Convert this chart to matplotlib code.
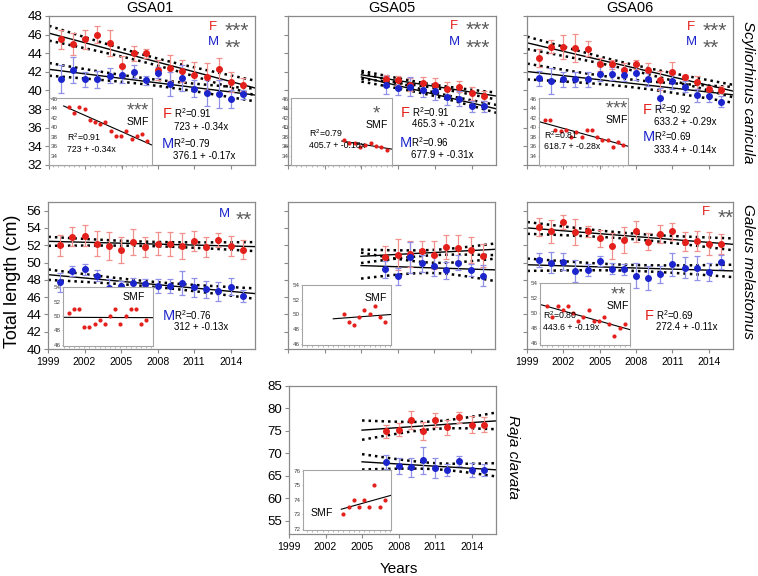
import numpy as np
import matplotlib
matplotlib.use('Agg')
import matplotlib.pyplot as plt

plt.rcParams['font.family'] = ['Liberation Sans', 'DejaVu Sans']
plt.rcParams['mathtext.fontset'] = 'custom'
plt.rcParams['mathtext.rm'] = 'Liberation Sans'
plt.rcParams['mathtext.default'] = 'regular'

W, H = 758, 576

# ---- data (mean total length, cm) ----
years16 = [2000, 2001, 2002, 2003, 2004, 2005, 2006, 2007,
           2008, 2009, 2010, 2011, 2012, 2013, 2014, 2015]
years9 = [2007, 2008, 2009, 2010, 2011, 2012, 2013, 2014, 2015]

# Scyliorhinus canicula
sc01_f = [45.5, 45.0, 45.5, 46.0, 45.1, 42.6, 44.0, 44.0, 42.2, 42.4, 42.1, 41.7, 41.5, 42.3, 40.9, 40.6]
sc01_f_err = [1.0, 1.2, 1.0, 0.9, 1.4, 1.1, 0.8, 0.5, 1.1, 1.4, 1.2, 1.4, 1.5, 1.2, 1.1, 0.7]
sc01_m = [41.2, 42.2, 41.2, 41.2, 41.6, 41.7, 42.0, 41.1, 41.9, 40.7, 41.3, 40.2, 39.7, 39.6, 39.1, 39.6]
sc01_m_err = [1.5, 1.4, 0.8, 0.9, 0.8, 0.9, 0.7, 0.5, 0.6, 1.3, 1.4, 0.9, 1.4, 1.5, 1.0, 0.5]
sc01_smf = [44.2, 43.1, 44.2, 43.8, 41.6, 41.2, 40.7, 41.1, 39.1, 38.1, 38.1, 39.1, 37.6, 38.1, 38.5, 37.0]

sc05_f = [41.2, 41.1, 40.6, 40.8, 40.6, 40.2, 40.4, 39.7, 39.4]
sc05_f_err = [0.5, 0.5, 0.7, 0.6, 0.7, 0.7, 0.6, 0.7, 0.5]
sc05_m = [40.6, 40.3, 40.4, 40.1, 39.9, 39.3, 39.1, 38.3, 38.3]
sc05_m_err = [1.0, 0.8, 1.0, 0.8, 0.9, 0.9, 0.8, 0.6, 0.6]
sc05_smf = [37.2, 36.7, 36.7, 35.8, 36.3, 36.7, 36.1, 35.8, 35.2]

sc06_f = [43.5, 44.7, 44.7, 44.6, 44.5, 42.8, 42.8, 42.2, 42.8, 42.2, 41.1, 42.0, 41.4, 40.9, 40.2, 40.1]
sc06_f_err = [1.0, 0.7, 1.3, 1.5, 0.8, 0.7, 0.5, 0.8, 0.5, 0.7, 1.0, 1.1, 0.3, 0.7, 0.3, 0.4]
sc06_m = [41.3, 41.0, 41.2, 41.2, 41.2, 41.8, 41.8, 41.7, 41.9, 41.2, 39.2, 41.0, 40.4, 39.5, 39.4, 38.8]
sc06_m_err = [0.8, 1.4, 0.8, 0.8, 0.8, 0.8, 0.7, 0.7, 0.8, 0.7, 1.1, 0.8, 0.6, 0.7, 0.6, 0.6]
sc06_smf = [41.6, 41.6, 39.5, 39.1, 39.5, 37.9, 38.9, 37.9, 39.5, 39.5, 37.9, 37.4, 37.4, 35.9, 36.8, 36.3]

# Galeus melastomus
gm01_f = [52.0, 53.0, 53.1, 52.2, 51.9, 51.4, 52.4, 51.8, 52.2, 52.15, 51.9, 52.5, 51.8, 52.6, 51.9, 51.5]
gm01_f_err = [1.2, 1.1, 1.2, 1.4, 1.6, 1.5, 1.5, 1.2, 1.3, 1.4, 1.5, 1.2, 1.2, 0.8, 1.2, 1.1]
gm01_m = [47.7, 49.0, 49.2, 48.5, 47.0, 47.3, 47.6, 47.5, 47.3, 47.3, 47.6, 47.15, 46.9, 46.65, 47.2, 46.15]
gm01_m_err = [1.1, 0.6, 0.6, 0.6, 1.1, 0.6, 0.6, 0.6, 0.8, 0.8, 1.4, 1.1, 1.0, 1.1, 1.0, 0.7]
gm01_smf = [50.4, 51.0, 51.0, 48.4, 48.4, 48.9, 49.4, 48.9, 50.0, 51.0, 48.9, 50.0, 51.0, 51.0, 48.9, 49.4]

gm05_f = [50.6, 50.9, 51.0, 51.3, 50.9, 51.8, 51.65, 51.5, 50.8]
gm05_f_err = [1.3, 1.8, 1.5, 1.2, 1.6, 1.4, 1.5, 1.5, 1.3]
gm05_m = [49.2, 48.4, 50.6, 49.9, 49.6, 49.1, 50.0, 49.1, 48.5]
gm05_m_err = [1.0, 1.0, 1.8, 1.0, 1.1, 1.0, 0.9, 0.7, 1.2]
gm05_smf = [50.0, 49.0, 48.6, 49.6, 50.6, 50.0, 51.1, 49.6, 49.0]

gm06_f = [54.1, 53.6, 54.65, 53.5, 53.6, 52.8, 51.9, 52.6, 53.6, 52.4, 53.3, 53.6, 52.4, 52.5, 52.2, 52.15]
gm06_f_err = [1.0, 1.3, 0.8, 1.5, 0.6, 1.0, 1.5, 1.5, 1.2, 1.0, 1.0, 1.0, 1.1, 1.2, 1.3, 1.2]
gm06_m = [50.3, 50.0, 50.1, 49.0, 49.15, 50.2, 49.3, 49.2, 48.5, 48.2, 48.65, 49.8, 49.4, 49.4, 48.9, 50.1]
gm06_m_err = [0.8, 1.2, 1.0, 1.3, 0.7, 0.6, 0.6, 0.6, 1.5, 1.4, 1.0, 1.3, 1.2, 1.4, 1.0, 0.8]
gm06_smf = [51.0, 49.5, 51.0, 50.5, 51.0, 50.0, 49.0, 49.5, 50.5, 49.0, 49.0, 49.5, 48.6, 47.0, 48.0, 48.6]

# Raja clavata
rc05_f = [74.9, 75.3, 77.4, 75.0, 77.4, 75.75, 78.0, 76.4, 76.4]
rc05_f_err = [1.5, 1.5, 2.0, 2.0, 1.6, 1.7, 1.3, 1.8, 1.6]
rc05_m = [68.1, 67.1, 66.9, 68.4, 66.7, 66.2, 68.3, 66.2, 66.2]
rc05_m_err = [1.6, 1.8, 2.1, 3.0, 2.2, 1.3, 1.2, 1.6, 1.3]
rc05_smf = [73.0, 73.5, 74.0, 73.5, 74.0, 73.5, 75.0, 73.5, 74.0]

x_ticks = [1999, 2002, 2005, 2008, 2011, 2014]

RED = '#e3201b'
BLUE = '#1c25cc'
RED_BAR = '#f2908e'
BLUE_BAR = '#9090e8'
SPINE = '#8a8a8a'
STAR = '#5a5a5a'
T_CRIT = {9: 2.365, 16: 2.145}   # two-sided 95% t for n-2 df
STAR_MID = 0.57   # asterisk centre above baseline, in em

fig = plt.figure(figsize=(W / 100, H / 100), dpi=100)


def px_axes(l, t, r, b):
    return fig.add_axes([l / W, 1 - b / H, (r - l) / W, (b - t) / H])


def px_text(x, y, s, **kw):
    kw.setdefault('va', 'center')
    fig.text(x / W, 1 - y / H, s, zorder=10, **kw)


def fit_with_band(ax, x, y, x0, x1):
    x = np.asarray(x, float)
    y = np.asarray(y, float)
    b, a = np.polyfit(x, y, 1)
    xx = np.linspace(x0, x1, 60)
    yy = a + b * xx
    n = len(x)
    s = np.sqrt(np.sum((y - (a + b * x)) ** 2) / (n - 2))
    se = s * np.sqrt(1 / n + (xx - x.mean()) ** 2 / np.sum((x - x.mean()) ** 2))
    ax.plot(xx, yy, color='k', lw=1, zorder=2)
    for sign in (-1, 1):
        ax.plot(xx, yy + sign * T_CRIT[n] * se, color='k', lw=1.8,
                ls=(0, (1, 1.6)), zorder=2)


def main_panel(box, years, f, f_err, m, m_err, ylim, yticks, line_from,
               ylabels=True, xlabels=False):
    ax = px_axes(*box)
    for vals, err, c, ec in ((f, f_err, RED, RED_BAR), (m, m_err, BLUE, BLUE_BAR)):
        ax.errorbar(years, vals, yerr=err, fmt='o', color=c, ecolor=ec, ms=4,
                    capsize=2.5, elinewidth=0.9, capthick=0.9, zorder=3)
        fit_with_band(ax, years, vals, line_from, 2016.5)
    ax.set_xlim(1999, 2016)
    ax.set_ylim(*ylim)
    ax.set_xticks(x_ticks)
    ax.set_yticks(yticks)
    if not xlabels:
        ax.set_xticklabels([])
    if not ylabels:
        ax.set_yticklabels([])
    ax.tick_params(axis='both', direction='out', length=3, width=0.8, color=SPINE)
    ax.tick_params(axis='y', labelsize=9.5, pad=2)
    ax.tick_params(axis='x', labelsize=7.5, pad=3)
    for sp in ax.spines.values():
        sp.set_color(SPINE)
        sp.set_linewidth(0.9)
    return ax


def inset(box, years, smf, xlim, ylim, yticks, line_from, inside=False):
    ax = px_axes(*box)
    ax.set_zorder(5)
    ax.scatter(years, smf, s=9, color=RED, zorder=3, linewidths=0)
    b, a = np.polyfit(years, smf, 1)
    xx = np.array([line_from, xlim[1]])
    ax.plot(xx, a + b * xx, color='k', lw=0.8, zorder=2)
    ax.set_xlim(*xlim)
    ax.set_ylim(*ylim)
    ax.set_xticks([y for y in range(1996, 2017) if xlim[0] <= y <= xlim[1]])
    ax.set_xticklabels([])
    ax.tick_params(axis='x', direction='out', length=1.5, width=0.5, color='#999999')
    if inside:
        ax.set_yticks(yticks, labels=[str(v) for v in yticks], ha='left')
        ax.tick_params(axis='y', direction='in', length=0, pad=-1.5,
                       labelsize=4.5, labelcolor='#444444')
    else:
        ax.set_yticks(yticks, labels=[str(v) for v in yticks])
        ax.tick_params(axis='y', direction='out', length=1, width=0.5, pad=0.5,
                       color='#999999', labelsize=4.5, labelcolor='#444444')
    for sp in ax.spines.values():
        sp.set_color('#a5a5a5')
        sp.set_linewidth(0.8)
    return ax


sc_ylim, sc_ticks = (32, 48), list(range(32, 49, 2))
gm_ylim, gm_ticks = (40, 57), list(range(40, 57, 2))
rc_ylim, rc_ticks = (52, 85), list(range(55, 86, 5))

# row 1: Scyliorhinus canicula
main_panel((49, 16, 255, 165), years16, sc01_f, sc01_f_err, sc01_m, sc01_m_err,
           sc_ylim, sc_ticks, 1998.5)
main_panel((288, 16, 496, 165), years9, sc05_f, sc05_f_err, sc05_m, sc05_m_err,
           sc_ylim, sc_ticks, 2005, ylabels=False)
main_panel((527, 16, 733, 165), years16, sc06_f, sc06_f_err, sc06_m, sc06_m_err,
           sc_ylim, sc_ticks, 1998.5, ylabels=False)
inset((49, 98, 152, 165), years16, sc01_smf, (1996.2, 2015.9), (32, 46.2),
      list(range(34, 47, 2)), 1999, inside=True)
inset((291, 98, 392, 165), years9, sc05_smf, (1997.1, 2016), (32, 46.2),
      list(range(34, 47, 2)), 2006.6)
inset((539, 98, 628, 165), years16, sc06_smf, (1998.85, 2015.9), (32, 46.2),
      list(range(34, 47, 2)), 1998.85)

# row 2: Galeus melastomus
main_panel((48, 202, 255, 349), years16, gm01_f, gm01_f_err, gm01_m, gm01_m_err,
           gm_ylim, gm_ticks, 1998.5, xlabels=True)
main_panel((288, 202, 495, 349), years9, gm05_f, gm05_f_err, gm05_m, gm05_m_err,
           gm_ylim, gm_ticks, 2005, ylabels=False)
main_panel((527, 202, 733, 349), years16, gm06_f, gm06_f_err, gm06_m, gm06_m_err,
           gm_ylim, gm_ticks, 1998.5, ylabels=False, xlabels=True)
inset((63, 287, 153, 346), years16, gm01_smf, (1998.9, 2016.3), (45.8, 54.05),
      list(range(46, 55, 2)), 1998.9)
inset((302, 285, 391, 345), years9, gm05_smf, (1999, 2016.1), (45.8, 54.05),
      list(range(46, 55, 2)), 2005)
inset((540, 283, 630, 345), years16, gm06_smf, (1998.6, 2016), (45.8, 54.05),
      list(range(46, 55, 2)), 1998.6)

# row 3: Raja clavata
main_panel((289, 386, 496, 534), years9, rc05_f, rc05_f_err, rc05_m, rc05_m_err,
           rc_ylim, rc_ticks, 2005, xlabels=True)
inset((303, 470, 391, 530), years9, rc05_smf, (1999.2, 2016.2), (71.9, 76.05),
      [72, 73, 74, 75, 76], 2006.6)

# ---- titles and axis labels ----
for x, s in ((150, 'GSA01'), (392, 'GSA05'), (630, 'GSA06')):
    px_text(x, 8, s, ha='center', fontsize=10.5)
px_text(748, 92, 'Scyliorhinus canicula', ha='center', rotation=-90,
        fontsize=11, style='italic')
px_text(748, 272, 'Galeus melastomus', ha='center', rotation=-90,
        fontsize=11, style='italic')
px_text(513, 457, 'Raja clavata', ha='center', rotation=-90,
        fontsize=11, style='italic')
px_text(13, 281, 'Total length (cm)', ha='center', rotation=90, fontsize=13)
px_text(399, 569, 'Years', ha='center', fontsize=11)


def stars(x, y, s, fontsize, **kw):
    # place the asterisks so that their ink (last line) is centred on y
    em = fontsize * 100 / 72
    px_text(x, y + STAR_MID * em, s, va='baseline', color=STAR,
            fontsize=fontsize, **kw)


def sig(x, y, rows, dy=15):
    # rows: (letter, colour, n_stars) from top to bottom
    for i, (letter, color, _) in enumerate(rows):
        px_text(x, y + i * dy, letter, ha='center', color=color, fontsize=9.5)
    stars(x + 12, y + (len(rows) - 1) * dy, '\n'.join('*' * n for _, _, n in rows),
          15, ha='left', linespacing=dy / 17.0)


def eq(x, y, letter, color, r2, formula, dy=12):
    px_text(x, y, letter, ha='left', color=color, fontsize=10.5)
    px_text(x + 11, y - 1, r2, ha='left', fontsize=7)
    px_text(x + 11, y + dy, formula, ha='left', fontsize=7)


def smf_box(x, y, n_stars, r2=None, formula=None, tx=None, ty=None):
    if n_stars:
        # mathtext box has no descent below the asterisks
        stars(x, y - 15, '$' + '{*}' * n_stars + '$', 13.5, ha='center')
    px_text(x, y + 2, '$SMF$', ha='center', fontsize=7.5)
    if r2:
        px_text(tx, ty, r2, ha='left', fontsize=6.3)
        px_text(tx, ty + 12, formula, ha='left', fontsize=6.3)


# GSA01 S. canicula
sig(213, 27, [('F', RED, 3), ('M', BLUE, 2)])
eq(163, 114, 'F', RED, 'R$^2$=0.91', '723 + -0.34x', dy=13)
eq(162, 144, 'M', BLUE, 'R$^2$=0.79', '376.1 + -0.17x', dy=12)
smf_box(138, 119, 3, 'R$^2$=0.91', '723 + -0.34x', 67, 137)

# GSA05 S. canicula
sig(454, 26, [('F', RED, 3), ('M', BLUE, 3)], dy=16)
eq(401, 113, 'F', RED, 'R$^2$=0.91', '465.3 + -0.21x', dy=11)
eq(400, 143, 'M', BLUE, 'R$^2$=0.96', '677.9 + -0.31x', dy=12)
smf_box(377, 122, 1, 'R$^2$=0.79', '405.7 + -0.18x', 309, 133)

# GSA06 S. canicula
sig(691, 27, [('F', RED, 3), ('M', BLUE, 2)])
eq(643, 110, 'F', RED, 'R$^2$=0.92', '633.2 + -0.29x', dy=12)
eq(643, 137, 'M', BLUE, 'R$^2$=0.69', '333.4 + -0.14x', dy=13)
smf_box(617, 117, 3, 'R$^2$=0.81', '618.7 + -0.28x', 544, 135)

# GSA01 G. melastomus
sig(224, 214, [('M', BLUE, 2)])
eq(163, 316, 'M', BLUE, 'R$^2$=0.76', '312 + -0.13x', dy=11)
smf_box(134, 294, 0)

# GSA05 G. melastomus
smf_box(376, 295, 0)

# GSA06 G. melastomus
sig(706, 212, [('F', RED, 2)])
eq(645, 316, 'F', RED, 'R$^2$=0.69', '272.4 + -0.11x', dy=11)
smf_box(618, 303, 2, 'R$^2$=0.80', '443.6 + -0.19x', 543, 315)

# GSA05 R. clavata
smf_box(322, 510, 0)

fig.savefig('out.png', dpi=100)
